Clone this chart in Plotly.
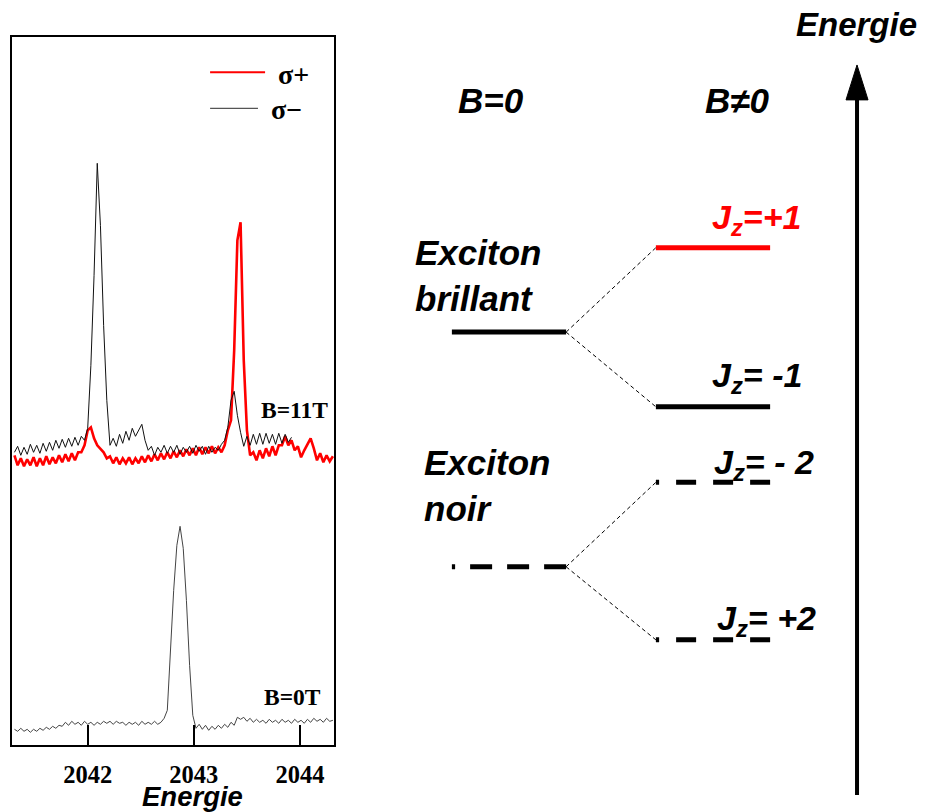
import plotly.graph_objects as go

# page is 928x812; the html body adds an 8 px margin, so the figure is drawn 8 px in
OFF = 8
W, H = 928 - OFF, 812 - OFF

# ---------------- spectra (left panel) ----------------
energy_eV = [
    2041.31, 2041.34, 2041.37, 2041.40, 2041.43, 2041.46, 2041.49, 2041.52, 2041.55, 2041.58,
    2041.61, 2041.64, 2041.67, 2041.70, 2041.73, 2041.76, 2041.79, 2041.82, 2041.85, 2041.88,
    2041.91, 2041.94, 2041.97, 2042.00, 2042.03, 2042.06, 2042.09, 2042.12, 2042.15, 2042.18,
    2042.21, 2042.24, 2042.27, 2042.30, 2042.33, 2042.36, 2042.39, 2042.42, 2042.45, 2042.48,
    2042.51, 2042.54, 2042.57, 2042.60, 2042.63, 2042.66, 2042.69, 2042.72, 2042.75, 2042.78,
    2042.81, 2042.84, 2042.87, 2042.90, 2042.93, 2042.96, 2042.99, 2043.02, 2043.05, 2043.08,
    2043.11, 2043.14, 2043.17, 2043.20, 2043.23, 2043.26, 2043.29, 2043.32, 2043.35, 2043.38,
    2043.41, 2043.44, 2043.47, 2043.50, 2043.53, 2043.56, 2043.59, 2043.62, 2043.65, 2043.68,
    2043.71, 2043.74, 2043.77, 2043.80, 2043.83, 2043.86, 2043.89, 2043.92, 2043.95, 2043.98,
    2044.01, 2044.04, 2044.07, 2044.10, 2044.13, 2044.16, 2044.19, 2044.22, 2044.25, 2044.28,
    2044.31,
]

# B = 11 T, sigma+ (red)
sigma_plus_11T = [
    290, 280, 287, 279, 286, 280, 288, 279, 287, 280,
    289, 281, 288, 282, 290, 283, 291, 284, 292, 285,
    293, 293, 300, 315, 318, 307, 300, 296, 293, 287,
    289, 282, 288, 281, 287, 282, 288, 281, 287, 282,
    289, 283, 290, 284, 291, 285, 292, 286, 293, 287,
    294, 288, 295, 289, 296, 290, 297, 290, 298, 291,
    298, 292, 299, 292, 298, 293, 300, 315, 325, 395,
    505, 523, 385, 315, 290, 293, 285, 295, 287, 297,
    289, 299, 290, 300, 300, 309, 300, 305, 295, 299,
    288, 295, 301, 307, 297, 285, 292, 283, 290, 284,
    289,
]

# B = 11 T, sigma- (black), recorded over a shorter range
sigma_minus_11T = [
    293, 299, 290, 298, 291, 301, 293, 300, 292, 302,
    294, 303, 295, 305, 297, 306, 298, 307, 299, 308,
    300, 309, 305, 317, 380, 470, 582, 520, 420, 345,
    300, 307, 299, 311, 302, 314, 305, 317, 309, 315,
    321, 305, 295, 299, 290, 298, 293, 300, 292, 299,
    293, 300, 291, 298, 293, 299, 292, 300, 294, 299,
    291, 299, 293, 298, 295, 301, 305, 318, 345, 354,
    330, 313, 299, 309, 300, 311, 301, 312, 301, 312,
    302, 311, 301, 312, 302, 311, 303, 308,
]

# B = 0 T (grey)
spectrum_0T = [
    16, 14, 17, 14, 16, 13, 16, 14, 17, 15,
    18, 16, 19, 17, 20, 19, 23, 20, 24, 21,
    23, 20, 24, 21, 23, 20, 23, 21, 24, 22,
    24, 21, 24, 22, 23, 20, 23, 21, 23, 20,
    24, 21, 23, 21, 24, 21, 23, 27, 35, 95,
    155, 200, 219, 197, 145, 80, 30, 17, 21, 16,
    20, 15, 19, 16, 20, 17, 21, 18, 23, 20,
    28, 26, 28, 24, 27, 23, 26, 23, 25, 22,
    26, 23, 25, 22, 26, 23, 25, 22, 26, 23,
    25, 22, 26, 23, 27, 24, 26, 23, 27, 24,
    25,
]

tick_values = [2042, 2043, 2044]
tick_labels = ["2042", "2043", "2044"]
legend_names = ["σ+", "σ−"]
field_labels = ["B=11T", "B=0T"]

# ---------------- level diagram (right panel) ----------------
column_titles = ["B=0", "B≠0"]               # column 0 and column 1
E_bright_B0 = 5.91                            # energy (a.u.)
E_dark_B0 = 3.02
bright_split_labels = ["J<sub>z</sub>=+1", "J<sub>z</sub>= -1"]
bright_split_E = [6.95, 4.99]
dark_split_labels = ["J<sub>z</sub>= - 2", "J<sub>z</sub>= +2"]
dark_split_E = [4.06, 2.12]
state_labels = ["Exciton<br>brillant", "Exciton<br>noir"]

# ---------------- helpers / styles ----------------
SERIF = "Liberation Serif, Times New Roman, serif"
SANS = "Liberation Sans, Arial, sans-serif"
HALF = 0.28   # half width of a level in column units


def dom_x(a, b):
    return [(a - OFF) / W, (b - OFF) / W]


def dom_y(top, bottom):
    return [(812 - bottom) / H, (812 - top) / H]


def serif_b(size):
    return dict(family=SERIF, size=size, color="black", weight="bold")


def sans_bi(size, color="black"):
    return dict(family=SANS, size=size, color=color, weight="bold", style="italic")


fig = go.Figure()

# spectra
fig.add_trace(go.Scatter(x=energy_eV, y=sigma_plus_11T, mode="lines", name=legend_names[0],
                         line=dict(color="#ff0000", width=2.6), showlegend=False,
                         xaxis="x", yaxis="y"))
fig.add_trace(go.Scatter(x=energy_eV[:len(sigma_minus_11T)], y=sigma_minus_11T, mode="lines",
                         name=legend_names[1], line=dict(color="#111111", width=1),
                         showlegend=False, xaxis="x", yaxis="y"))
fig.add_trace(go.Scatter(x=energy_eV, y=spectrum_0T, mode="lines", name=field_labels[1],
                         line=dict(color="#444444", width=1), showlegend=False,
                         xaxis="x", yaxis="y"))

# level diagram: B=0 levels
fig.add_trace(go.Scatter(x=[-HALF, HALF], y=[E_bright_B0, E_bright_B0], mode="lines",
                         line=dict(color="black", width=5), showlegend=False,
                         xaxis="x2", yaxis="y2", hoverinfo="skip"))
fig.add_trace(go.Scatter(x=[HALF, -HALF], y=[E_dark_B0, E_dark_B0], mode="lines",
                         line=dict(color="black", width=5, dash="22px,15px"), showlegend=False,
                         xaxis="x2", yaxis="y2", hoverinfo="skip"))
# split levels
bright_colors = ["#ff0000", "black"]
for e, c in zip(bright_split_E, bright_colors):
    fig.add_trace(go.Scatter(x=[1 - HALF, 1 + HALF], y=[e, e], mode="lines",
                             line=dict(color=c, width=5), showlegend=False,
                             xaxis="x2", yaxis="y2", hoverinfo="skip"))
    fig.add_trace(go.Scatter(x=[HALF, 1 - HALF], y=[E_bright_B0, e], mode="lines",
                             line=dict(color="black", width=1, dash="4px,3px"), showlegend=False,
                             xaxis="x2", yaxis="y2", hoverinfo="skip"))
for e in dark_split_E:
    fig.add_trace(go.Scatter(x=[1 + HALF, 1 - HALF], y=[e, e], mode="lines",
                             line=dict(color="black", width=5, dash="20px,17px"), showlegend=False,
                             xaxis="x2", yaxis="y2", hoverinfo="skip"))
    fig.add_trace(go.Scatter(x=[HALF, 1 - HALF], y=[E_dark_B0, e], mode="lines",
                             line=dict(color="black", width=1, dash="4px,3px"), showlegend=False,
                             xaxis="x2", yaxis="y2", hoverinfo="skip"))

# energy arrow
ARROW_X = 1.706
fig.add_trace(go.Scatter(x=[ARROW_X, ARROW_X], y=[0.21, 8.8], mode="lines",
                         line=dict(color="black", width=4), showlegend=False,
                         xaxis="x2", yaxis="y2", hoverinfo="skip"))
fig.add_trace(go.Scatter(x=[ARROW_X - 0.054, ARROW_X + 0.054, ARROW_X, ARROW_X - 0.054],
                         y=[8.77, 8.77, 9.2, 8.77], mode="lines", fill="toself",
                         fillcolor="black", line=dict(color="black", width=1),
                         showlegend=False, xaxis="x2", yaxis="y2", hoverinfo="skip"))

annotations = []
# legend (drawn manually inside the left panel)
shapes = [
    dict(type="line", xref="x", yref="y", x0=2043.153, x1=2043.671, y0=673, y1=673,
         line=dict(color="#ff0000", width=2)),
    dict(type="line", xref="x", yref="y", x0=2043.153, x1=2043.604, y0=637, y1=637,
         line=dict(color="#555555", width=1.3)),
]
annotations.append(dict(x=2043.934, y=671, xref="x", yref="y", text=legend_names[0],
                        showarrow=False, font=serif_b(28)))
annotations.append(dict(x=2043.877, y=636, xref="x", yref="y", text=legend_names[1],
                        showarrow=False, font=serif_b(28)))
annotations.append(dict(x=2043.952, y=335, xref="x", yref="y", text=field_labels[0],
                        showarrow=False, font=serif_b(23.5)))
annotations.append(dict(x=2043.925, y=48, xref="x", yref="y", text=field_labels[1],
                        showarrow=False, font=serif_b(23.5)))
annotations.append(dict(x=2042.986, y=(812 - 796) / H, xref="x", yref="paper", text="Energie",
                        xanchor="center", yanchor="middle",
                        showarrow=False, font=sans_bi(27.5)))

annotations.append(dict(x=-0.088, y=8.768, xref="x2", yref="y2", text=column_titles[0],
                        showarrow=False, font=sans_bi(35)))
annotations.append(dict(x=1.118, y=8.768, xref="x2", yref="y2", text=column_titles[1],
                        showarrow=False, font=sans_bi(35)))
annotations.append(dict(x=-0.471, y=6.613, xref="x2", yref="y2", text=state_labels[0],
                        showarrow=False, xanchor="left", align="left", font=sans_bi(35)))
annotations.append(dict(x=-0.426, y=4.027, xref="x2", yref="y2", text=state_labels[1],
                        showarrow=False, xanchor="left", align="left", font=sans_bi(35)))
label_pos = [(0.985, 7.30, "#ff0000"), (0.985, 5.35, "black")]
for t, (x, y, c) in zip(bright_split_labels, label_pos):
    annotations.append(dict(x=x, y=y, xref="x2", yref="y2", text=t,
                            showarrow=False, xanchor="left", font=sans_bi(34, c)))
label_pos = [(0.995, 4.28), (1.010, 2.36)]
for t, (x, y) in zip(dark_split_labels, label_pos):
    annotations.append(dict(x=x, y=y, xref="x2", yref="y2", text=t,
                            showarrow=False, xanchor="left", font=sans_bi(34)))
annotations.append(dict(x=1.701, y=9.70, xref="x2", yref="y2", text="Energie",
                        showarrow=False, font=sans_bi(33)))

fig.update_layout(
    width=W, height=H,
    margin=dict(l=0, r=0, t=0, b=0),
    paper_bgcolor="white",
    plot_bgcolor="rgba(0,0,0,0)",
    showlegend=False,
    xaxis=dict(domain=dom_x(12, 334.3), range=[2041.287, 2044.323],
               showline=True, mirror=True, linecolor="black", linewidth=2,
               ticks="inside", ticklen=20, tickwidth=2, tickcolor="black",
               tickvals=tick_values, ticktext=tick_labels, ticklabelstandoff=6,
               tickfont=serif_b(24.5),
               showgrid=False, zeroline=False, anchor="y"),
    yaxis=dict(domain=dom_y(37, 745.3), range=[0, 708.3],
               showline=True, mirror=True, linecolor="black", linewidth=2,
               ticks="", showticklabels=False, showgrid=False, zeroline=False, anchor="x"),
    # diagram axes: 1 column unit = 204 px, centred columns at page x 509 and 713
    xaxis2=dict(domain=[0, 1], range=[(OFF - 509) / 204, (928 - 509) / 204], visible=False, anchor="y2"),
    yaxis2=dict(domain=[0, 1], range=[0, (812 - OFF) / 81.2], visible=False, anchor="x2"),
    shapes=shapes,
    annotations=annotations,
)

fig.write_html("out.html", config={"displayModeBar": False})
